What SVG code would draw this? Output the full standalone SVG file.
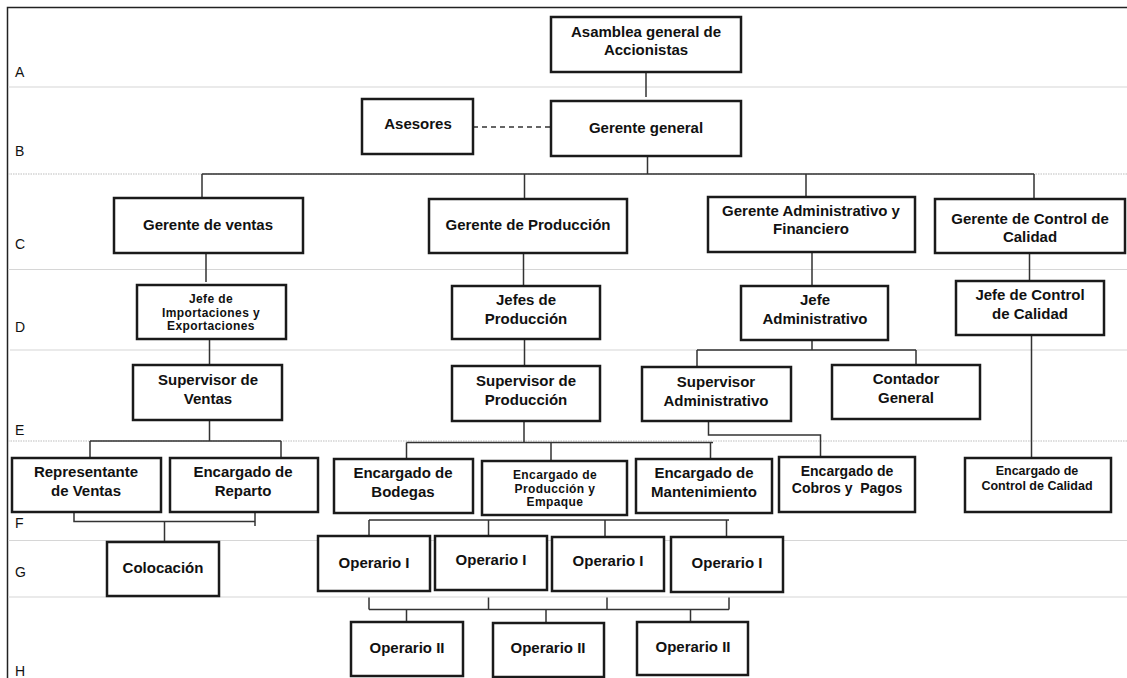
<svg xmlns="http://www.w3.org/2000/svg" width="1127" height="678" viewBox="0 0 1127 678">
<style>
.lane{stroke:#d6d6d6;stroke-width:1.2;fill:none}
.lane2{stroke:#bdbdbd;stroke-width:1.2;stroke-dasharray:1.5 1;fill:none}
.frame{stroke:#222;stroke-width:1.5;fill:none}
.lbl{font-family:"Liberation Sans",Arial,sans-serif;font-size:14px;fill:#111}
.box{fill:#fff;stroke:#1a1a1a;stroke-width:2.5}
.t{font-family:"Liberation Sans",Arial,sans-serif;font-size:15px;font-weight:bold;fill:#111;text-anchor:middle}
.s{font-family:"Liberation Sans",Arial,sans-serif;font-size:12px;font-weight:bold;fill:#111;text-anchor:middle;letter-spacing:0.4px}
.m{font-family:"Liberation Sans",Arial,sans-serif;font-size:14px;font-weight:bold;fill:#111;text-anchor:middle}
.c{font-family:"Liberation Sans",Arial,sans-serif;font-size:12.5px;font-weight:bold;fill:#111;text-anchor:middle}
.con{stroke:#333;stroke-width:1.5;fill:none}
.dash{stroke:#333;stroke-width:1.3;fill:none;stroke-dasharray:5 4}
</style>
<rect width="1127" height="678" fill="#fff"/>
<g id="lanes">
<path class="frame" d="M7.5,678 V7.5 H1127"/>
<path class="lane" d="M8,87 H1127"/>
<path class="lane2" d="M8,174 H1127"/>
<path class="lane" d="M8,269.5 H1127"/>
<path class="lane" d="M10,350 H1127"/>
<path class="lane2" d="M8,441 H1127"/>
<path class="lane" d="M8,540.5 H1127"/>
<path class="lane" d="M8,597 H1127"/>
<text class="lbl" x="15" y="77">A</text>
<text class="lbl" x="15" y="156">B</text>
<text class="lbl" x="15" y="249">C</text>
<text class="lbl" x="15" y="332">D</text>
<text class="lbl" x="15" y="435">E</text>
<text class="lbl" x="15" y="528">F</text>
<text class="lbl" x="15" y="577">G</text>
<text class="lbl" x="15" y="676">H</text>
</g>
<g id="connectors">
<path class="con" d="M646,72 V97"/>
<path class="dash" d="M473,127 H551"/>
<path class="con" d="M647.5,156 V174 M202,174 H1034 M202,174 V201 M524.5,174 V200 M806,174 V200 M1034,174 V200"/>
<path class="con" d="M206,253 V282 M209.5,339 V365 M209.5,420 V441 M90,441 H281 M90,441 V457 M281,441 V457"/>
<path class="con" d="M74,509 V521.5 H255 M255,513 V526 M164.5,521.5 V541"/>
<path class="con" d="M523.5,253 V285 M524.5,339 V366 M524,421 V442.5 M406.5,442.5 H713 M406.5,442.5 V459 M551,442.5 V461 M710.5,442.5 V459"/>
<path class="con" d="M812,252 V285 M812,340 V350 M697,350 H916 M697,350 V367 M916,350 V365"/>
<path class="con" d="M708.5,421 V435 H820.5 V457"/>
<path class="con" d="M1029.5,253 V281 M1031.5,335 V458"/>
<path class="con" d="M369,520 H729 M369,520 V536 M488.5,520 V536 M605,520 V537 M726.5,520 V537"/>
<path class="con" d="M369,597.5 V609.5 M488.5,597.5 V609.5 M607,597.5 V609.5 M729,597.5 V609.5 M369,609.5 H729 M406.5,609.5 V622 M546,609.5 V623 M690.5,609.5 V622"/>
</g>
<g id="asamblea"><rect class="box" x="551" y="17" width="190" height="55"/><text class="t" x="646" y="37">Asamblea general de</text><text class="t" x="646" y="55">Accionistas</text></g>
<g id="gerente-general"><rect class="box" x="551" y="101" width="190" height="55"/><text class="t" x="646" y="133">Gerente general</text></g>
<g id="asesores"><rect class="box" x="362" y="99" width="111" height="55"/><text class="t" x="418" y="129">Asesores</text></g>
<g id="gerente-ventas"><rect class="box" x="114" y="198" width="189" height="55"/><text class="t" x="208" y="230">Gerente de ventas</text></g>
<g id="gerente-produccion"><rect class="box" x="429" y="199" width="198" height="54"/><text class="t" x="528" y="230">Gerente de Producción</text></g>
<g id="gerente-admin"><rect class="box" x="708" y="197" width="207" height="55"/><text class="t" x="811" y="216">Gerente Administrativo y</text><text class="t" x="811" y="234">Financiero</text></g>
<g id="gerente-calidad"><rect class="box" x="935" y="199" width="190" height="54"/><text class="t" x="1030" y="224">Gerente de Control de</text><text class="t" x="1030" y="242">Calidad</text></g>
<g id="jefe-import"><rect class="box" x="137" y="285" width="149" height="54"/><text class="s" x="211" y="303">Jefe de</text><text class="s" x="211" y="316.5">Importaciones y</text><text class="s" x="211" y="330">Exportaciones</text></g>
<g id="supervisor-ventas"><rect class="box" x="133" y="365" width="149" height="55"/><text class="t" x="208" y="385">Supervisor de</text><text class="t" x="208" y="404">Ventas</text></g>
<g id="jefes-produccion"><rect class="box" x="452" y="286" width="148" height="53"/><text class="t" x="526" y="305">Jefes de</text><text class="t" x="526" y="324">Producción</text></g>
<g id="supervisor-produccion"><rect class="box" x="452" y="366" width="148" height="55"/><text class="t" x="526" y="386">Supervisor de</text><text class="t" x="526" y="405">Producción</text></g>
<g id="jefe-admin"><rect class="box" x="741" y="286" width="147" height="54"/><text class="t" x="815" y="305">Jefe</text><text class="t" x="815" y="324">Administrativo</text></g>
<g id="supervisor-admin"><rect class="box" x="642" y="367" width="149" height="54"/><text class="t" x="716" y="387">Supervisor</text><text class="t" x="716" y="406">Administrativo</text></g>
<g id="contador"><rect class="box" x="832" y="365" width="148" height="54"/><text class="t" x="906" y="384">Contador</text><text class="t" x="906" y="403">General</text></g>
<g id="jefe-calidad"><rect class="box" x="956" y="281" width="148" height="54"/><text class="t" x="1030" y="300">Jefe de Control</text><text class="t" x="1030" y="319">de Calidad</text></g>
<g id="representante"><rect class="box" x="12" y="458" width="149" height="54"/><text class="t" x="86" y="477">Representante</text><text class="t" x="86" y="496">de Ventas</text></g>
<g id="reparto"><rect class="box" x="170" y="458" width="148" height="54"/><text class="t" x="243" y="477">Encargado de</text><text class="t" x="243" y="496">Reparto</text></g>
<g id="bodegas"><rect class="box" x="334" y="459" width="139" height="54"/><text class="t" x="403" y="478">Encargado de</text><text class="t" x="403" y="497">Bodegas</text></g>
<g id="prod-empaque"><rect class="box" x="482" y="461" width="145" height="54"/><text class="s" x="555" y="478.5">Encargado de</text><text class="s" x="555" y="492.5">Producción y</text><text class="s" x="555" y="506">Empaque</text></g>
<g id="mantenimiento"><rect class="box" x="636" y="459" width="136" height="54"/><text class="t" x="704" y="478">Encargado de</text><text class="t" x="704" y="497">Mantenimiento</text></g>
<g id="cobros"><rect class="box" x="779" y="457" width="136" height="55"/><text class="m" x="847" y="475.5">Encargado de</text><text class="m" x="847" y="493" xml:space="preserve">Cobros y  Pagos</text></g>
<g id="enc-calidad"><rect class="box" x="965" y="458" width="146" height="54"/><text class="c" x="1037" y="475">Encargado de</text><text class="c" x="1037" y="490">Control de Calidad</text></g>
<g id="colocacion"><rect class="box" x="107" y="542" width="112" height="54"/><text class="t" x="163" y="573">Colocación</text></g>
<g id="operario-i-1"><rect class="box" x="318" y="536" width="112" height="55"/><text class="t" x="374" y="568">Operario I</text></g>
<g id="operario-i-2"><rect class="box" x="435" y="536" width="112" height="54"/><text class="t" x="491" y="565">Operario I</text></g>
<g id="operario-i-3"><rect class="box" x="552" y="537" width="112" height="54"/><text class="t" x="608" y="566">Operario I</text></g>
<g id="operario-i-4"><rect class="box" x="671" y="537" width="112" height="55"/><text class="t" x="727" y="568">Operario I</text></g>
<g id="operario-ii-1"><rect class="box" x="351" y="622" width="112" height="54"/><text class="t" x="407" y="653">Operario II</text></g>
<g id="operario-ii-2"><rect class="box" x="493" y="623" width="111" height="54"/><text class="t" x="548" y="653">Operario II</text></g>
<g id="operario-ii-3"><rect class="box" x="637" y="622" width="111" height="53"/><text class="t" x="693" y="652">Operario II</text></g>
</svg>
